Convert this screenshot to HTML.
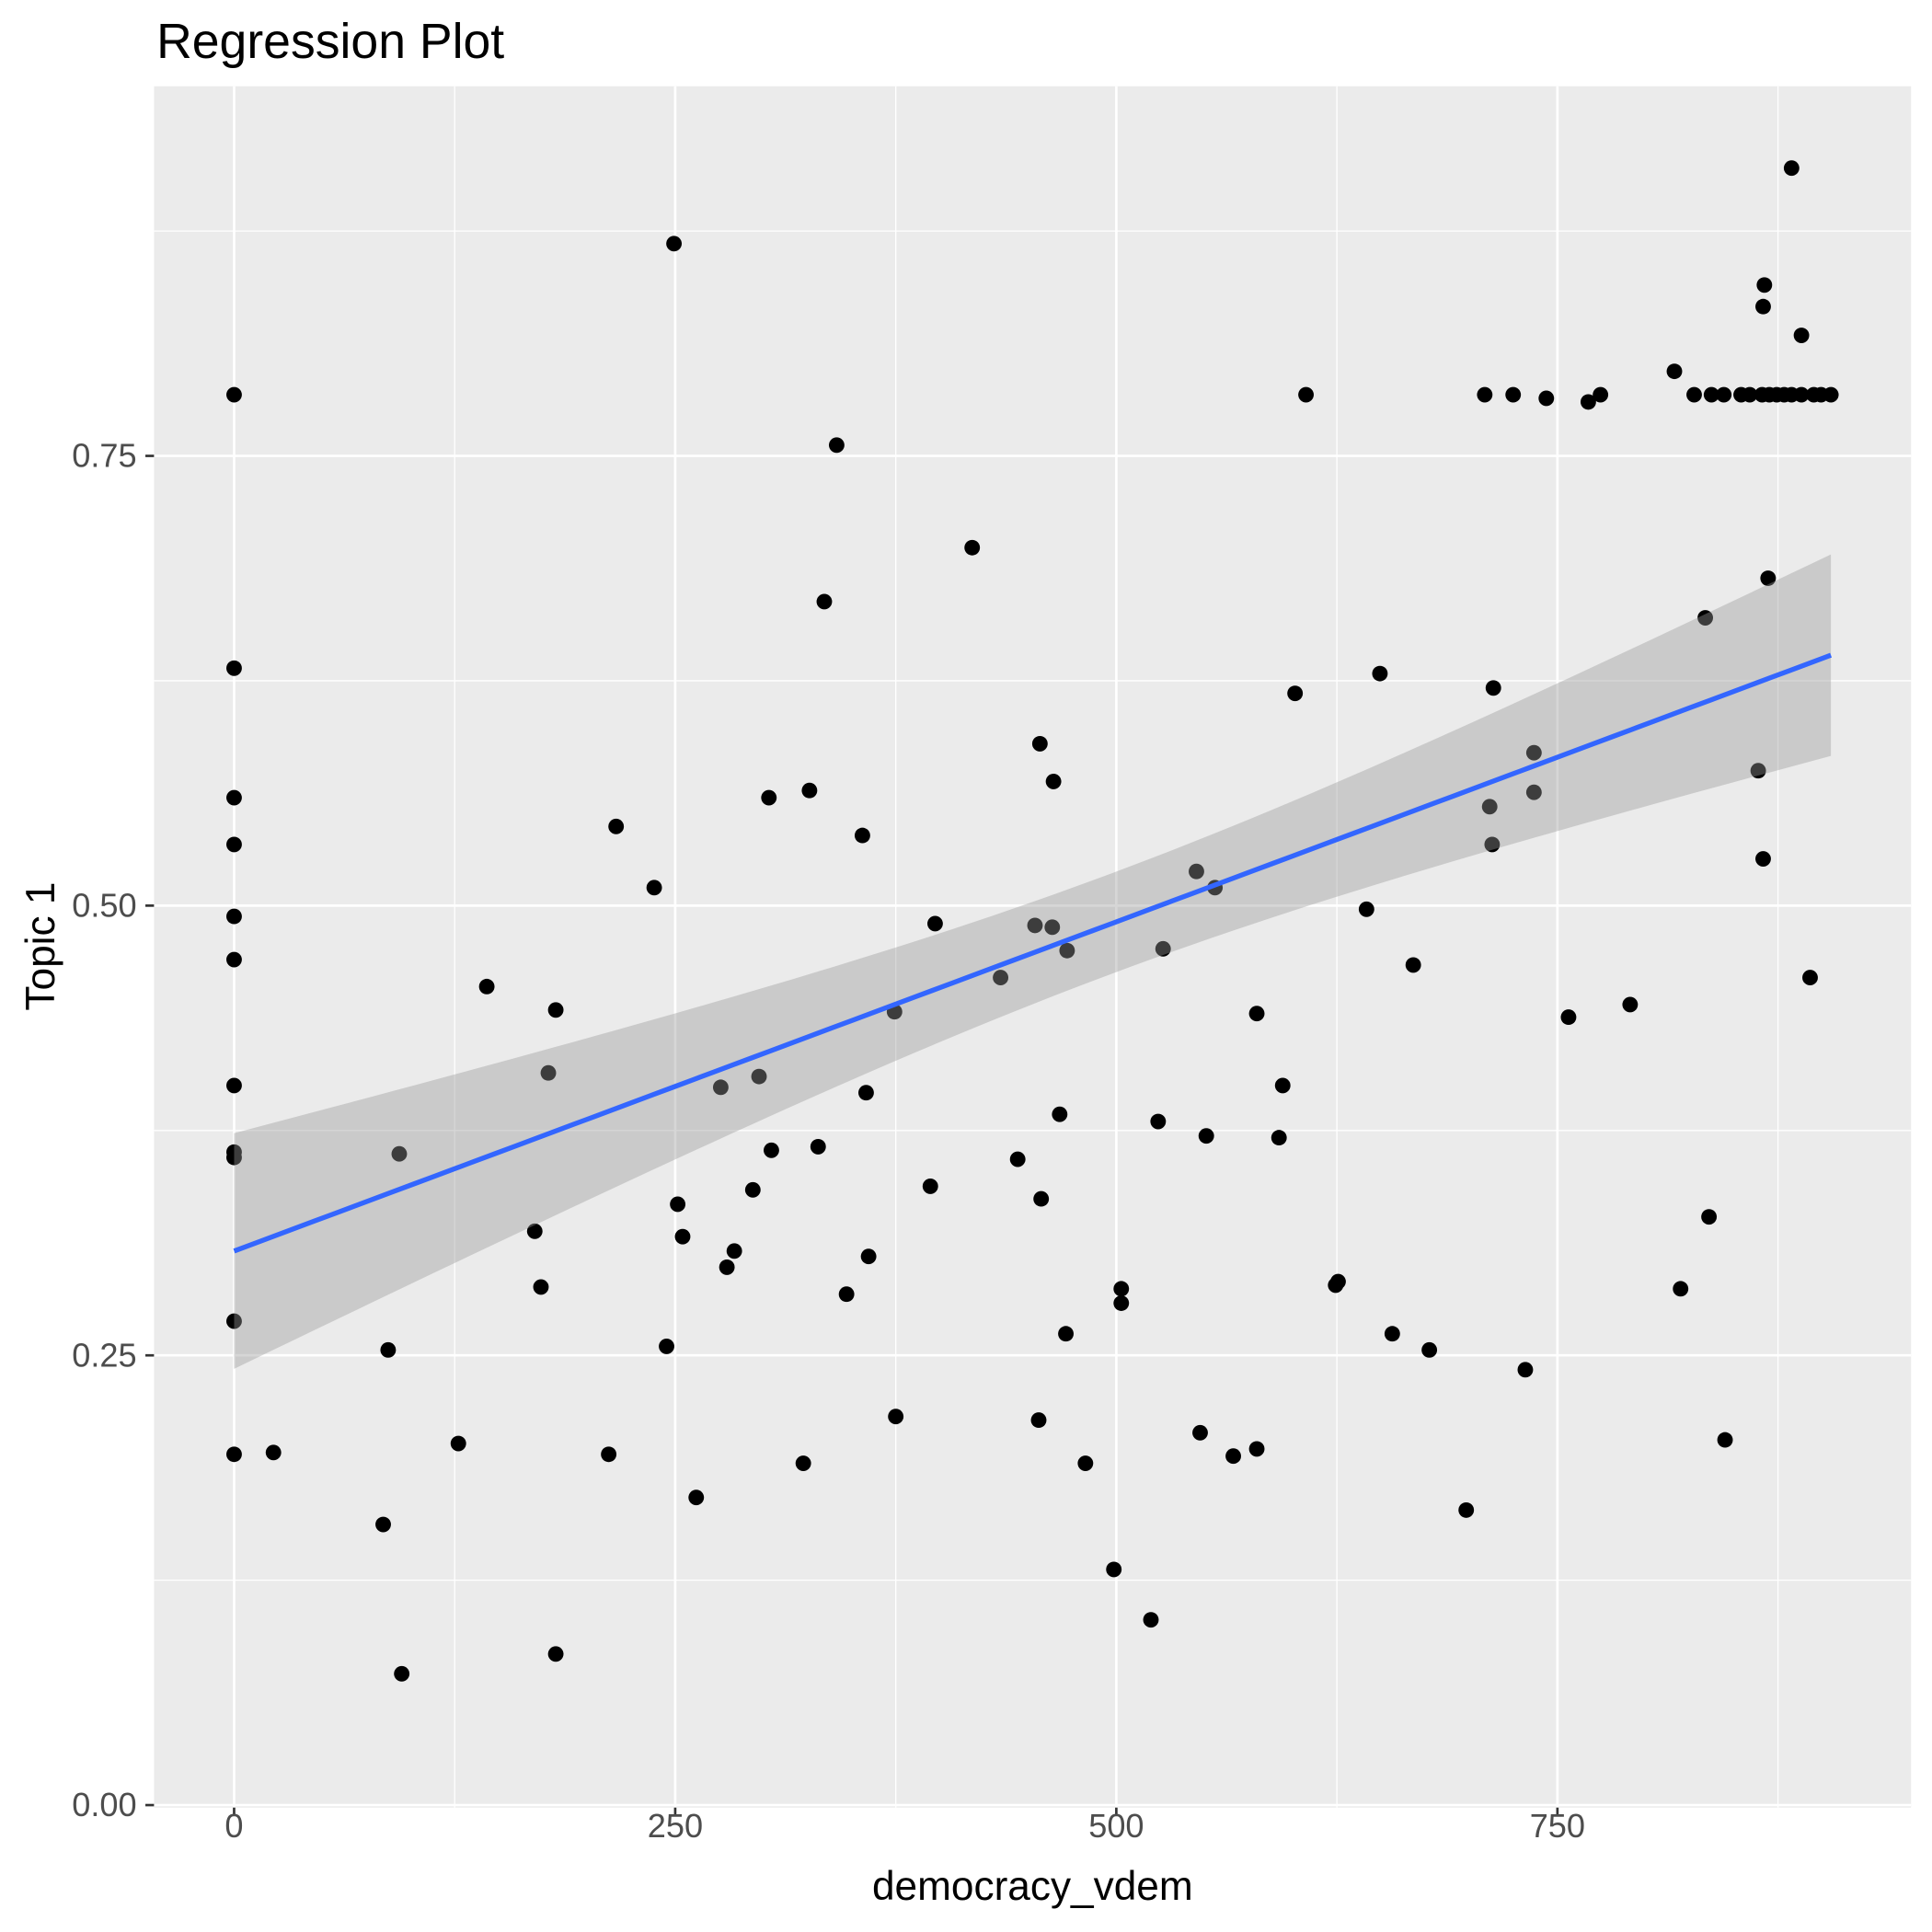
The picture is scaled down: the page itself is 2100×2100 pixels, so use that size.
<!DOCTYPE html>
<html><head><meta charset="utf-8"><style>
html,body{margin:0;padding:0;background:#fff}
svg{display:block}
text{font-family:"Liberation Sans",sans-serif}
</style></head><body>
<svg id="chart" width="2100" height="2100" viewBox="0 0 1568 1568" xmlns="http://www.w3.org/2000/svg">
<text x="127" y="47" font-size="40" fill="#000">Regression Plot</text>
<rect x="125" y="70" width="1426" height="1397" fill="#ebebeb"/>
<g id="grid"></g>
<g id="points"></g>
<g id="smooth"></g>
<g id="axes"></g>
<text x="838" y="1542" font-size="33" text-anchor="middle" fill="#000">democracy_vdem</text>
<text transform="translate(44,768) rotate(-90)" font-size="33" text-anchor="middle" fill="#000">Topic 1</text>
</svg>
<script>
const xVals = [0,0,0,0,0,0,0,0,0,0,0,22.3,249.3,341.5,418.3,334.5,607.5,708.8,724.9,743.7,767.5,774.4,816.3,827.5,837.3,844.3,854.1,859,866,870.1,874.3,878.5,882.7,888.3,895.3,899.4,905,882.7,867.3,866.6,888.3,869.4,833.8,713.7,649.4,601.3,736.7,863.8,736.7,711.6,713.0,866.6,893.2,456.7,464.4,303.1,326.1,216.5,356.1,238.1,545.4,555.9,453.9,463.7,397.3,472.1,526.5,641.8,668.3,434.4,143.2,182.3,374.3,579.6,756.3,791.2,178.1,275.8,297.5,358.2,594.3,467.9,523.7,551.0,592.2,331.0,304.5,93.6,444.1,394.6,294.0,457.4,251.4,254.2,170.4,835.9,283.5,279.3,359.6,173.9,347.1,502.8,502.8,625.7,624.3,819.8,471.4,656.4,245.1,87.3,677.4,731.8,375.0,456.0,127.1,212.3,322.6,482.5,547.5,566.3,579.6,845.0,261.9,698.3,84.5,498.6,519.6,182.3,95.0];
const yVals = [0.784,0.632,0.560,0.534,0.494,0.470,0.400,0.363,0.360,0.269,0.195,0.196,0.868,0.756,0.699,0.669,0.784,0.784,0.784,0.782,0.780,0.784,0.797,0.784,0.784,0.784,0.784,0.784,0.784,0.784,0.784,0.784,0.784,0.784,0.784,0.784,0.784,0.910,0.845,0.833,0.817,0.682,0.660,0.621,0.629,0.618,0.585,0.575,0.563,0.555,0.534,0.526,0.460,0.590,0.569,0.560,0.564,0.544,0.539,0.510,0.519,0.510,0.489,0.488,0.490,0.475,0.476,0.498,0.467,0.460,0.455,0.442,0.441,0.440,0.438,0.445,0.407,0.399,0.405,0.396,0.400,0.384,0.380,0.372,0.371,0.366,0.364,0.362,0.359,0.344,0.342,0.337,0.334,0.316,0.319,0.327,0.308,0.299,0.305,0.288,0.284,0.287,0.279,0.291,0.289,0.287,0.262,0.262,0.255,0.253,0.253,0.242,0.216,0.214,0.201,0.195,0.190,0.190,0.207,0.194,0.198,0.203,0.171,0.164,0.156,0.131,0.103,0.084,0.073];
const fitCoef = [0.308, 0.000366];           // intercept, slope
const seCoef = [0.00078, 1.419e-8, 497.3];   // se^2 base, curvature, centre
const xTicks = [0, 250, 500, 750];
const xTickLabels = ["0", "250", "500", "750"];
const yTicks = [0, 0.25, 0.5, 0.75];
const yTickLabels = ["0.00", "0.25", "0.50", "0.75"];
const xMinor = [125, 375, 625, 875];
const yMinor = [0.125, 0.375, 0.625, 0.875];

const NS = "http://www.w3.org/2000/svg";
const sx = v => 190 + v * 1.432;
const sy = v => 1465 - v * 1460;
function mk(tag, attrs, parent) {
  const e = document.createElementNS(NS, tag);
  for (const k in attrs) e.setAttribute(k, attrs[k]);
  parent.appendChild(e);
  return e;
}
const grid = document.getElementById('grid');
xMinor.forEach(v => { const l = mk('line', {x1: sx(v), x2: sx(v), y1: 70, y2: 1467, stroke: '#fff', 'stroke-width': 1}, grid);
  
   });
yMinor.forEach(v => { const l = mk('line', {x1: 125, x2: 1551, y1: sy(v), y2: sy(v), stroke: '#fff', 'stroke-width': 1}, grid);
  
   });
xTicks.forEach(v => { const l = mk('line', {x1: sx(v), x2: sx(v), y1: 70, y2: 1467, stroke: '#fff', 'stroke-width': 2}, grid);
  
   });
yTicks.forEach(v => { const l = mk('line', {x1: 125, x2: 1551, y1: sy(v), y2: sy(v), stroke: '#fff', 'stroke-width': 2}, grid);
  
   });

const pts = document.getElementById('points');
xVals.forEach((x, i) => {
  const c = mk('circle', {cx: sx(x), cy: sy(yVals[i]), r: 6.3, fill: '#000'}, pts);
  
  
});

const sm = document.getElementById('smooth');
const xmin = Math.min(...xVals), xmax = Math.max(...xVals);
const up = [], lo = [], ln = [];
for (let i = 0; i <= 80; i++) {
  const x = xmin + (xmax - xmin) * i / 80;
  const f = fitCoef[0] + fitCoef[1] * x;
  const h = Math.sqrt(seCoef[0] + seCoef[1] * (x - seCoef[2]) ** 2);
  up.push(sx(x) + ',' + sy(f + h));
  lo.unshift(sx(x) + ',' + sy(f - h));
  ln.push(sx(x) + ',' + sy(f));
}
const band = mk('polygon', {points: up.concat(lo).join(' '), fill: '#999999', 'fill-opacity': 0.4}, sm);


const line = mk('polyline', {points: ln.join(' '), fill: 'none', stroke: '#3366FF', 'stroke-width': 4}, sm);



const ax = document.getElementById('axes');
xTicks.forEach((v, i) => {
  const t = mk('line', {x1: sx(v), x2: sx(v), y1: 1467, y2: 1474, stroke: '#333', 'stroke-width': 2}, ax);
  
  
  const l = mk('text', {x: sx(v), y: 1491, 'font-size': 27, fill: '#4d4d4d', 'text-anchor': 'middle'}, ax);
  l.textContent = xTickLabels[i];
  
  
});
yTicks.forEach((v, i) => {
  const t = mk('line', {x1: 118, x2: 125, y1: sy(v), y2: sy(v), stroke: '#333', 'stroke-width': 2}, ax);
  
  
  const l = mk('text', {x: 111, y: sy(v) + 9, 'font-size': 27, fill: '#4d4d4d', 'text-anchor': 'end'}, ax);
  l.textContent = yTickLabels[i];
  
  
});
</script>
</body></html>
